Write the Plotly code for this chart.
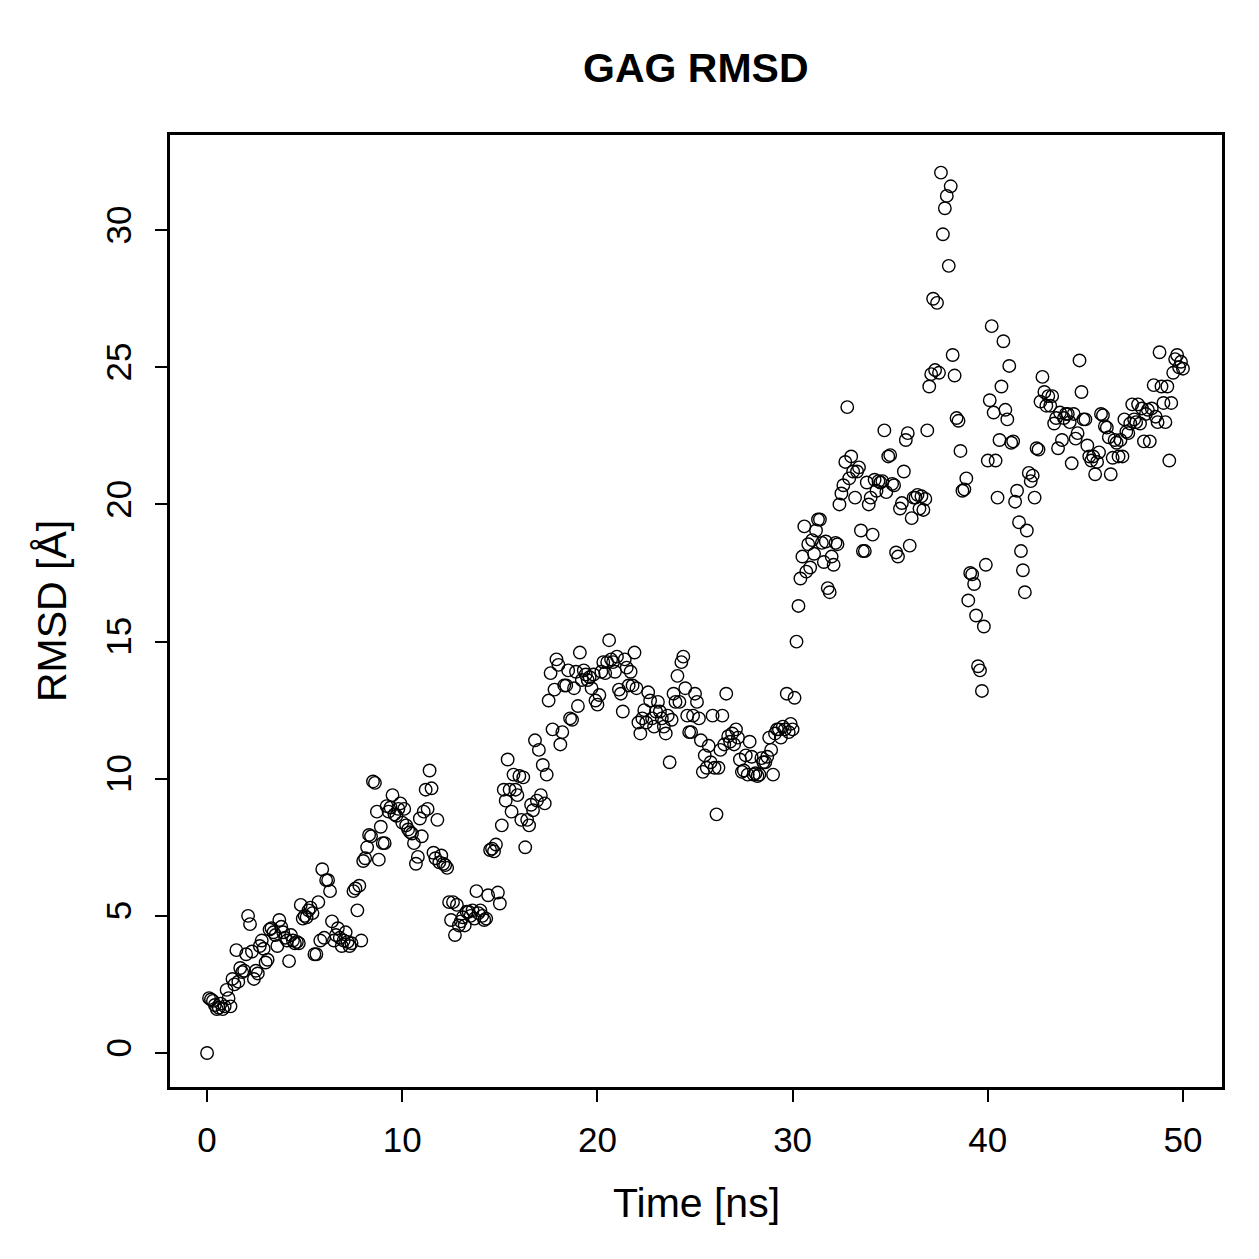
import numpy as np
import plotly.graph_objects as go

# RMSD values (Å), one per 0.1 ns
rmsd_start = [0.0]
rmsd_rows = [
    [2.0, 1.95, 1.9, 1.75, 1.6, 1.65, 1.8, 1.6, 1.7, 2.3],
    [2.0, 1.7, 2.7, 2.5, 3.75, 2.6, 3.1, 2.95, 3.0, 3.6],
    [5.0, 4.7, 3.7, 2.7, 3.0, 2.9, 3.9, 4.1, 3.8, 3.3],
    [3.4, 4.5, 4.55, 4.4, 4.3, 3.9, 4.85, 4.6, 4.4, 4.2],
    [4.1, 3.35, 4.3, 4.1, 4.0, 4.05, 4.0, 5.4, 4.9, 5.0],
    [4.95, 5.2, 5.3, 5.1, 3.6, 3.6, 5.5, 4.1, 6.7, 4.2],
    [6.3, 6.3, 5.9, 4.8, 4.1, 4.3, 4.55, 4.2, 3.9, 4.1],
    [4.4, 4.05, 3.9, 4.0, 5.9, 6.0, 5.2, 6.1, 4.1, 7.0],
    [7.1, 7.5, 7.95, 7.9, 9.9, 9.85, 8.8, 7.05, 8.25, 7.65],
    [7.65, 9.0, 8.8, 8.95, 9.4, 8.7, 8.65, 8.9, 9.1, 8.4],
    [8.9, 8.3, 8.15, 8.05, 8.0, 7.65, 6.9, 7.15, 8.55, 7.9],
    [8.8, 9.6, 8.9, 10.3, 9.65, 7.3, 7.1, 8.5, 6.95, 7.2],
    [6.9, 6.85, 6.75, 5.5, 4.85, 5.5, 4.3, 5.4, 4.65, 4.8],
    [4.95, 4.65, 5.15, 5.15, 5.0, 5.2, 4.9, 5.9, 5.1, 5.2],
    [5.0, 4.85, 4.9, 5.75, 7.4, 7.45, 7.35, 7.6, 5.85, 5.45],
    [8.3, 9.6, 9.2, 10.7, 9.6, 8.8, 10.15, 9.6, 9.4, 10.1],
    [8.5, 10.05, 7.5, 8.5, 8.3, 9.05, 8.85, 11.4, 9.2, 11.05],
    [9.4, 10.5, 9.1, 10.15, 12.85, 13.85, 11.8, 13.25, 14.35, 14.15],
    [11.25, 11.7, 13.4, 13.4, 13.95, 12.2, 12.15, 13.3, 13.9, 12.65],
    [14.6, 13.6, 13.95, 13.8, 13.6, 13.7, 13.3, 13.8, 12.85, 12.7],
    [13.05, 13.9, 14.25, 13.85, 14.25, 15.05, 14.35, 14.25, 13.9, 14.45],
    [13.25, 13.1, 12.45, 14.35, 14.05, 13.4, 13.9, 13.4, 14.6, 13.3],
    [12.05, 11.65, 12.2, 12.5, 12.05, 13.15, 12.85, 12.2, 11.9, 12.45],
    [12.8, 12.45, 12.2, 11.9, 11.65, 12.3, 10.6, 12.15, 13.1, 12.8],
    [13.75, 12.8, 14.25, 14.45, 13.3, 12.3, 11.7, 11.7, 12.3, 13.1],
    [12.8, 12.2, 11.4, 10.25, 10.85, 10.4, 11.2, 10.6, 12.3, 10.4],
    [8.7, 10.4, 11.05, 12.3, 11.25, 13.1, 11.55, 11.35, 11.65, 11.25],
    [11.8, 11.5, 10.7, 10.25, 10.3, 10.85, 10.15, 11.35, 10.8, 10.15],
    [10.2, 10.1, 10.15, 10.75, 10.6, 10.6, 10.8, 11.5, 11.05, 10.15],
    [11.65, 11.8, 11.8, 11.5, 11.9, 11.8, 13.1, 11.7, 12.0, 11.8],
    [12.95, 15.0, 16.3, 17.3, 18.1, 19.2, 17.55, 18.55, 17.7, 18.7],
    [18.2, 19.05, 19.45, 19.45, 18.6, 17.9, 18.65, 16.95, 16.8, 18.1],
    [17.8, 18.6, 18.55, 20.0, 20.4, 20.7, 21.55, 23.55, 20.95, 21.75],
    [21.2, 20.25, 21.2, 21.35, 19.05, 18.3, 18.3, 20.8, 20.0, 20.25],
    [18.9, 20.9, 20.5, 20.85, 20.8, 20.85, 22.7, 20.45, 21.75, 21.8],
    [20.75, 20.7, 18.25, 18.1, 19.85, 20.05, 21.2, 22.35, 22.6, 18.5],
    [19.5, 20.25, 20.25, 20.35, 19.85, 20.3, 19.8, 20.2, 22.7, 24.3],
    [24.75, 27.5, 24.9, 27.35, 24.8, 32.1, 29.85, 30.8, 31.25, 28.7],
    [31.6, 25.45, 24.7, 23.15, 23.05, 21.95, 20.5, 20.55, 20.95, 16.5],
    [17.5, 17.45, 17.1, 15.95, 14.1, 13.95, 13.2, 15.55, 17.8, 21.6],
    [23.8, 26.5, 23.35, 21.6, 20.25, 22.35, 24.3, 25.95, 23.45, 23.1],
    [25.05, 22.25, 22.3, 20.1, 20.5, 19.35, 18.3, 17.6, 16.8, 19.05],
    [21.15, 20.85, 21.05, 20.25, 22.05, 22.0, 23.75, 24.65, 24.1, 23.6],
    [23.95, 23.6, 23.95, 22.95, 23.15, 22.05, 23.35, 22.35, 23.15, 23.3],
    [23.3, 23.0, 21.5, 23.3, 22.4, 22.6, 25.25, 24.1, 23.1, 23.1],
    [22.15, 21.75, 21.6, 21.75, 21.1, 21.55, 21.9, 23.3, 23.25, 22.85],
    [22.8, 22.45, 21.1, 21.7, 22.35, 22.25, 21.75, 22.35, 21.75, 23.1],
    [22.65, 22.6, 22.95, 23.65, 23.1, 23.0, 23.65, 22.95, 23.5, 22.3],
    [23.3, 23.45, 22.3, 23.5, 24.35, 23.2, 23.0, 25.55, 24.3, 23.7],
    [23.0, 24.3, 21.6, 23.7, 24.8, 25.3, 25.45, 25.0, 25.2, 24.95],
]
rmsd = rmsd_start + [v for row in rmsd_rows for v in row]

# sampling times (ns): one frame every 0.1 ns
time_ns = np.round(np.arange(len(rmsd)) * 0.1, 1)

x_ticks = [0, 10, 20, 30, 40, 50]
y_ticks = [0, 5, 10, 15, 20, 25, 30]

FONT = "Liberation Sans, Arial, Helvetica, sans-serif"

fig = go.Figure()
fig.add_trace(go.Scatter(
    x=time_ns, y=rmsd, mode="markers",
    marker=dict(symbol="circle-open", size=12.5, color="black",
                line=dict(width=1.4, color="black")),
    showlegend=False,
))

axis_common = dict(
    showgrid=False, zeroline=False, showline=True, mirror=True,
    linecolor="black", linewidth=2.5, ticks="outside", ticklen=12,
    tickwidth=2, tickcolor="black",
    tickfont=dict(family=FONT, size=35, color="black"),
)
fig.update_xaxes(range=[-1.9, 52.0], tickvals=x_ticks, ticklabelstandoff=8,
                 **axis_common)
fig.update_yaxes(range=[-1.24, 33.47], tickvals=y_ticks, tickangle=-90,
                 ticklabelstandoff=10, **axis_common)

fig.update_layout(
    width=1259, height=1259,
    margin=dict(l=170, r=37, t=135, b=172),
    paper_bgcolor="white", plot_bgcolor="white",
    annotations=[
        dict(text="<b>GAG RMSD</b>", xref="paper", yref="paper", x=0.5, y=1,
             xanchor="center", yanchor="middle", yshift=135 - 68,
             showarrow=False, font=dict(family=FONT, size=41, color="black")),
        dict(text="Time [ns]", xref="paper", yref="paper", x=0.5, y=0,
             xanchor="center", yanchor="middle", yshift=-(1203 - 1087),
             showarrow=False, font=dict(family=FONT, size=41, color="black")),
        dict(text="RMSD [Å]", xref="paper", yref="paper", x=0, y=0.5,
             xanchor="center", yanchor="middle", xshift=-(170 - 52),
             textangle=-90, showarrow=False,
             font=dict(family=FONT, size=41, color="black")),
    ],
)

fig.write_html("out.html")
